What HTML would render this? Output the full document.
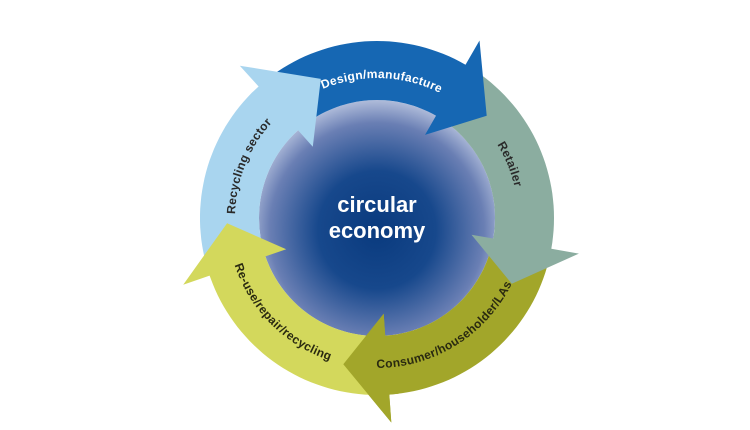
<!DOCTYPE html>
<html><head><meta charset="utf-8"><style>
html,body{margin:0;padding:0;background:#fff;width:750px;height:430px;overflow:hidden}
svg{display:block}
text{font-family:"Liberation Sans",sans-serif;font-weight:bold}
</style></head><body>
<svg id="s" width="750" height="430" viewBox="0 0 750 430" xmlns="http://www.w3.org/2000/svg">
<defs>
<radialGradient id="g" cx="50%" cy="55%" r="55%">
<stop offset="0" stop-color="#093a7e"/><stop offset="0.45" stop-color="#17488c"/>
<stop offset="0.82" stop-color="#6a7fb4"/><stop offset="1" stop-color="#b3bfdc"/>
</radialGradient>
</defs>
<circle cx="377" cy="218" r="119" fill="url(#g)" stroke="#eef2fa" stroke-width="2"/>
<g id="arrows"></g>
<g id="labels" font-size="12" letter-spacing="0.3"></g>
<text x="377" y="212" text-anchor="middle" font-size="22" fill="#fff">circular</text>
<text x="377" y="238" text-anchor="middle" font-size="22" fill="#fff">economy</text>
</svg>
<script>
var cx=377,cy=218,RO=177,RI=118,NS="http://www.w3.org/2000/svg";
function P(a,r){var t=a*Math.PI/180;return [(cx+r*Math.sin(t)).toFixed(1),(cy-r*Math.cos(t)).toFixed(1)];}
function arrow(t1,t2,col,tip){
 var pts=[],i;
 for(i=t1;i<=t2;i+=2)pts.push(P(i,RO));
 pts.push(P(t2,RO));pts.push(P(t2,205));pts.push(P(t2+tip,150));pts.push(P(t2,96));
 for(i=t2;i>=t1;i-=2)pts.push(P(i,RI));
 pts.push(P(t1,RI));
 var p=document.createElementNS(NS,"polygon");
 p.setAttribute("points",pts.map(function(q){return q.join(",")}).join(" "));
 p.setAttribute("fill",col);document.getElementById("arrows").appendChild(p);
}
function head(t2,col,tip){
 var pts=[P(t2-3,RO),P(t2,RO),P(t2,205),P(t2+tip,150),P(t2,96),P(t2,RI),P(t2-3,RI)];
 var p=document.createElementNS(NS,"polygon");
 p.setAttribute("points",pts.map(function(q){return q.join(",")}).join(" "));
 p.setAttribute("fill",col);document.getElementById("arrows").appendChild(p);
}
arrow(100,176,"#a2a62a",17);
arrow(30,100,"#8bada0",16);
arrow(-42,30,"#1667b3",17);
arrow(251,318,"#a9d5ef",20);
arrow(176,251,"#d3d85c",17);
head(176,"#a2a62a",17);
var n=0;
function label(txt,a,r,cw,col){
 n++;var s=60,d;
 if(cw){var A=P(a-s,r),B=P(a+s,r);d="M"+A+" A"+r+" "+r+" 0 0 1 "+B;}
 else{var A=P(a+s,r),B=P(a-s,r);d="M"+A+" A"+r+" "+r+" 0 0 0 "+B;}
 var p=document.createElementNS(NS,"path");p.setAttribute("id","lp"+n);p.setAttribute("d",d);p.setAttribute("fill","none");
 document.querySelector("defs").appendChild(p);
 var t=document.createElementNS(NS,"text");t.setAttribute("fill",col);
 var tp=document.createElementNS(NS,"textPath");tp.setAttribute("href","#lp"+n);
 tp.setAttribute("startOffset","50%");tp.setAttribute("text-anchor","middle");tp.textContent=txt;
 t.appendChild(tp);document.getElementById("labels").appendChild(t);
}
label("Design/manufacture",2,140,true,"#ffffff");
label("Retailer",68,141,true,"#2a2a2a");
label("Recycling sector",292,142,true,"#2a2a2a");
label("Consumer/householder/LAs",148,150,false,"#2a2a10");
label("Re-use/repair/recycling",225,150,false,"#2a2a10");
</script>
</body></html>
